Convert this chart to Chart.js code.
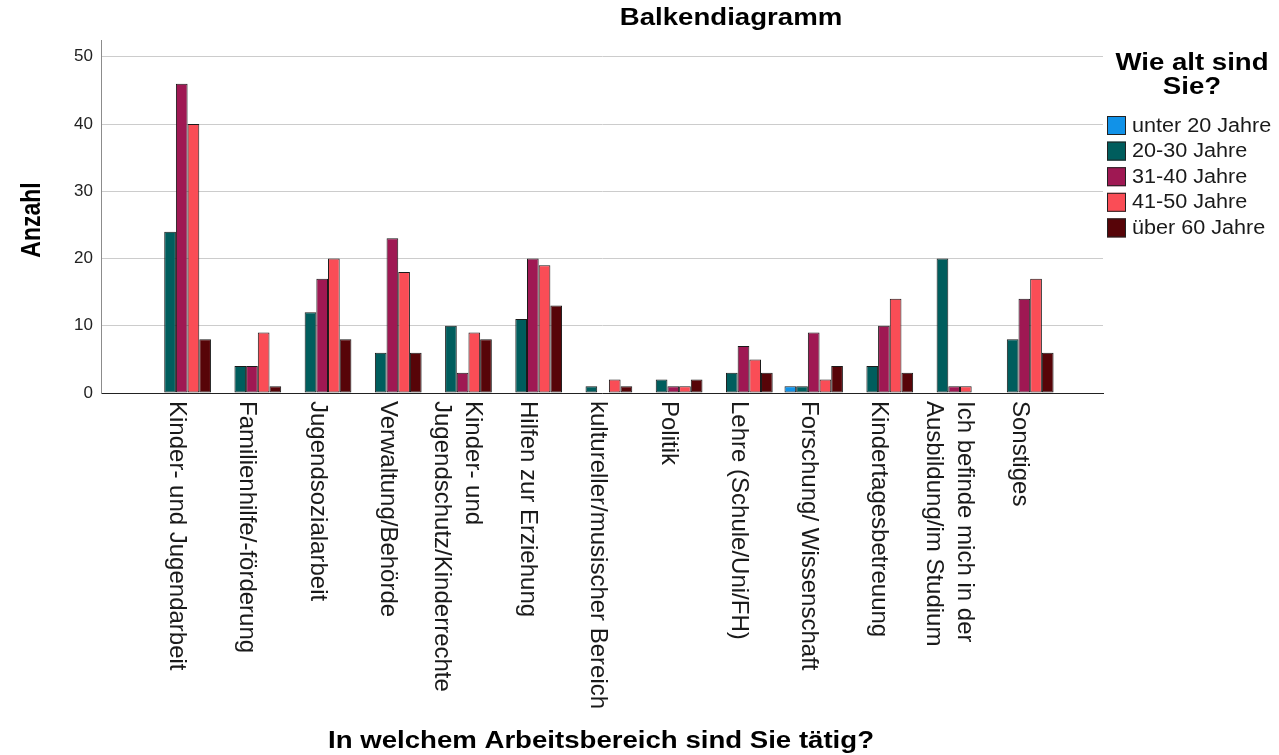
<!DOCTYPE html>
<html>
<head>
<meta charset="utf-8">
<script src="https://cdn.jsdelivr.net/npm/chart.js@4.4.1/dist/chart.umd.min.js"></script>
<style>
  html, body { margin: 0; padding: 0; background: #fff; }
  #wrap { width: 1279px; height: 755px; position: relative; }
</style>
</head>
<body>
<div id="wrap"><canvas id="balkenChart"></canvas></div>
<script>
// Kategorien (Zeilen einer Beschriftung als Liste)
const kategorien = [
    ['Kinder- und Jugendarbeit'],
    ['Familienhilfe/-förderung'],
    ['Jugendsozialarbeit'],
    ['Verwaltung/Behörde'],
    ['Kinder- und', 'Jugendschutz/Kinderrechte'],
    ['Hilfen zur Erziehung'],
    ['kultureller/musischer Bereich'],
    ['Politik'],
    ['Lehre (Schule/Uni/FH)'],
    ['Forschung/ Wissenschaft'],
    ['Kindertagesbetreuung'],
    ['Ich befinde mich in der', 'Ausbildung/im Studium'],
    ['Sonstiges']
];

// Werte je Altersgruppe
const unter20 = [0, 0, 0, 0, 0, 0, 0, 0, 0, 1, 0, 0, 0];
const jahre20bis30 = [24, 4, 12, 6, 10, 11, 1, 2, 3, 1, 4, 20, 8];
const jahre31bis40 = [46, 4, 17, 23, 3, 20, 0, 1, 7, 9, 10, 1, 14];
const jahre41bis50 = [40, 9, 20, 18, 9, 19, 2, 1, 5, 2, 14, 1, 17];
const ueber60 = [8, 1, 8, 6, 8, 13, 1, 2, 3, 4, 3, 0, 6];

const serienNamen = ['unter 20 Jahre', '20-30 Jahre', '31-40 Jahre', '41-50 Jahre', 'über 60 Jahre'];
const serienWerte = [unter20, jahre20bis30, jahre31bis40, jahre41bis50, ueber60];
const farben = ['#1192e8', '#005d5d', '#9f1853', '#fa4d56', '#570408'];

const yTicks = [0, 10, 20, 30, 40, 50];

const FONT = '"Liberation Sans", Arial, sans-serif';

/**
 * Text horizontal gestreckt zeichnen (wie im SPSS-Export)
 */
function stretchText(ctx, text, x, y, sx) {
    ctx.save();
    ctx.translate(x, y);
    ctx.scale(sx, 1);
    ctx.fillText(text, 0, 0);
    ctx.restore();
}

/**
 * Titel, Achsenbeschriftungen und Legende
 */
const textPlugin = {
    id: 'texte',
    afterDraw(chart) {
        const ctx = chart.ctx;
        const xScale = chart.scales.x;
        const area = chart.chartArea;

        ctx.save();
        ctx.fillStyle = '#1a1a1a';

        // Kategorien, im Uhrzeigersinn gedreht
        ctx.font = '24px ' + FONT;
        ctx.textAlign = 'left';
        ctx.textBaseline = 'middle';
        kategorien.forEach((zeilen, i) => {
            const px = xScale.getPixelForValue(i);
            ctx.save();
            ctx.translate(px - 5, area.bottom + 8);
            ctx.rotate(Math.PI / 2);
            zeilen.forEach((zeile, k) => {
                ctx.fillText(zeile, 0, (k - (zeilen.length - 1) / 2) * 31);
            });
            ctx.restore();
        });

        // Diagrammtitel
        ctx.fillStyle = '#000';
        ctx.textAlign = 'center';
        ctx.font = 'bold 23px ' + FONT;
        stretchText(ctx, 'Balkendiagramm', 731, 19, 1.2);

        // X-Achsentitel
        stretchText(ctx, 'In welchem Arbeitsbereich sind Sie tätig?', 601, 742, 1.2);

        // Y-Achsentitel
        ctx.save();
        ctx.translate(32, 220);
        ctx.rotate(-Math.PI / 2);
        ctx.scale(1, 1.2);
        ctx.fillText('Anzahl', 0, 0);
        ctx.restore();

        // Legende
        stretchText(ctx, 'Wie alt sind', 1192, 64, 1.2);
        stretchText(ctx, 'Sie?', 1192, 88, 1.2);

        ctx.font = '20px ' + FONT;
        ctx.textAlign = 'left';
        serienNamen.forEach((name, i) => {
            const cy = 125 + i * 25.6;
            ctx.fillStyle = farben[i];
            ctx.fillRect(1107, cy - 9, 19, 19);
            ctx.strokeStyle = '#222';
            ctx.lineWidth = 1;
            ctx.strokeRect(1107.5, cy - 8.5, 18, 18);
            ctx.fillStyle = '#1a1a1a';
            stretchText(ctx, name, 1132, cy + 1, 1.08);
        });

        ctx.restore();
    }
};

function initBalkenChart() {
    const canvas = document.getElementById('balkenChart');
    if (!canvas) return;

    const ctx = canvas.getContext('2d');

    const datasets = serienWerte.map((werte, s) => ({
        label: serienNamen[s],
        data: werte.map((v, i) => ({ x: i, y: v })),
        backgroundColor: farben[s],
        borderColor: '#1a1a1a',
        borderWidth: 1,
        borderSkipped: false,
        categoryPercentage: 0.832,
        barPercentage: 1.0
    }));

    new Chart(ctx, {
        type: 'bar',
        data: { datasets: datasets },
        plugins: [textPlugin],
        options: {
            responsive: true,
            maintainAspectRatio: false,
            animation: false,
            layout: {
                padding: { top: 40, right: 176, left: 0, bottom: 0 }
            },
            plugins: {
                legend: { display: false },
                tooltip: { enabled: false },
                title: { display: false }
            },
            scales: {
                x: {
                    type: 'linear',
                    offset: false,
                    min: -1.15,
                    max: 13.12,
                    grid: { display: false, offset: false },
                    border: { color: '#222', width: 1 },
                    ticks: { display: false },
                    afterFit: scale => { scale.height = 362; }
                },
                y: {
                    min: 0,
                    max: 52.5,
                    grid: {
                        color: '#cccccc',
                        lineWidth: 1,
                        drawTicks: false
                    },
                    border: { color: '#8c8c8c', width: 1 },
                    ticks: {
                        padding: 8,
                        color: '#222',
                        font: { family: FONT, size: 17 }
                    },
                    afterBuildTicks: scale => {
                        scale.ticks = yTicks.map(v => ({ value: v }));
                    },
                    afterFit: scale => { scale.width = 101; }
                }
            }
        }
    });
}

document.addEventListener('DOMContentLoaded', initBalkenChart);
</script>
</body>
</html>
